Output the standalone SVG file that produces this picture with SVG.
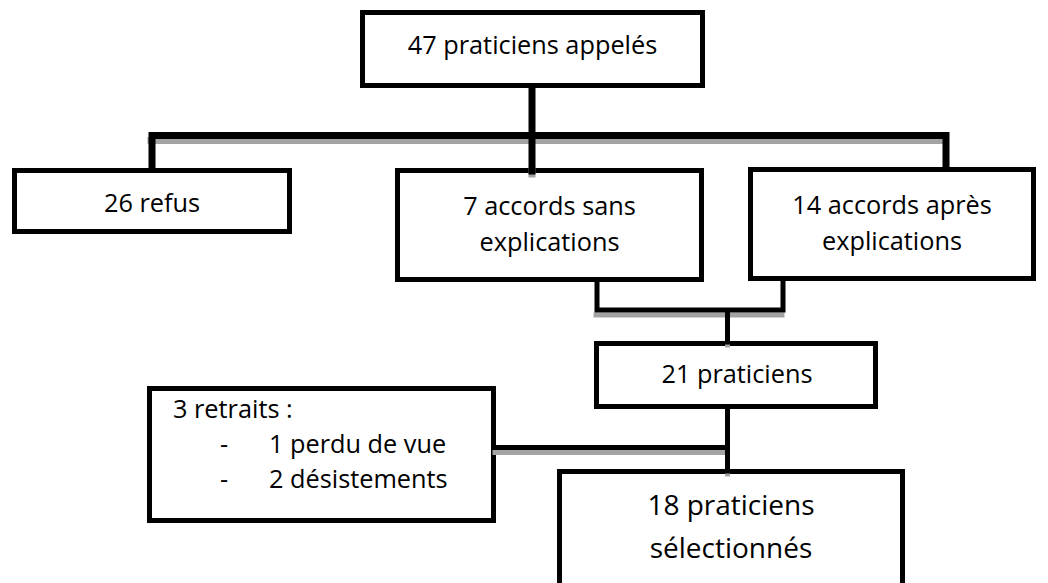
<svg xmlns="http://www.w3.org/2000/svg" width="1048" height="583" viewBox="0 0 1048 583">
  <style>
    .box { fill: #ffffff; stroke: #000000; stroke-width: 5; }
    .lbl { font-family: "Open Sans", "Liberation Sans", sans-serif; font-size: 25.3px; fill: #000000; }
    .mid { text-anchor: middle; }
    .big { font-size: 28px; }
    .wire { fill: none; stroke: #000000; stroke-linecap: square; }
    .shade { fill: none; stroke: #a3a3a3; stroke-linecap: square; }
    .thick { stroke-width: 7; }
    .thin { stroke-width: 5; }
  </style>
  <rect width="1048" height="583" fill="#ffffff"/>

  <g id="node-appeles">
    <rect class="box" x="362.5" y="12.5" width="340" height="73"/>
    <text class="lbl mid" x="532.5" y="54">47 praticiens appelés</text>
  </g>

  <g id="node-refus">
    <rect class="box" x="14.5" y="170.5" width="275" height="61"/>
    <text class="lbl mid" x="152" y="212">26 refus</text>
  </g>

  <g id="node-sans">
    <rect class="box" x="397.5" y="170.5" width="304" height="109"/>
    <text class="lbl mid" x="549.5" y="215">7 accords sans</text>
    <text class="lbl mid" x="549.5" y="251">explications</text>
  </g>

  <g id="node-apres">
    <rect class="box" x="750.5" y="169.5" width="283" height="109"/>
    <text class="lbl mid" x="892" y="214">14 accords après</text>
    <text class="lbl mid" x="892" y="250">explications</text>
  </g>

  <g id="node-21">
    <rect class="box" x="596.5" y="343.5" width="279" height="63"/>
    <text class="lbl mid" x="737" y="383">21 praticiens</text>
  </g>

  <g id="node-retraits">
    <rect class="box" x="149.5" y="388.5" width="344" height="132"/>
    <text class="lbl" x="173" y="418">3 retraits :</text>
    <text class="lbl" x="220" y="453">-</text>
    <text class="lbl" x="269" y="453">1 perdu de vue</text>
    <text class="lbl" x="220" y="488">-</text>
    <text class="lbl" x="269" y="488">2 désistements</text>
  </g>

  <g id="node-18">
    <rect class="box" x="559.5" y="471.5" width="343" height="120"/>
    <text class="lbl mid big" x="731" y="515">18 praticiens</text>
    <text class="lbl mid big" x="731" y="558">sélectionnés</text>
  </g>

  <g id="connectors">
    <!-- grey drop shadows, drawn first -->
    <g transform="translate(-1,5)">
      <path class="shade thick" d="M152,135.5 H946"/>
      <path class="shade thin" d="M597,310 H783"/>
      <path class="shade thin" d="M496,447.5 H727.5"/>
    </g>
    <g transform="translate(0,3)">
      <path class="shade thick" d="M532,171 V168"/>
      <path class="shade thin" d="M727.5,342 V340"/>
      <path class="shade thin" d="M727.5,471 V469"/>
    </g>
    <!-- top split -->
    <path class="wire thick" d="M152,168 V135.5 H946 V168"/>
    <path class="wire thick" d="M532,88 V171"/>
    <!-- merge of the two agreement boxes -->
    <path class="wire thin" d="M597,282 V310 H783 V281"/>
    <path class="wire thin" d="M727.5,312 V342"/>
    <!-- down to selection, with withdrawals branch -->
    <path class="wire thin" d="M727.5,409 V471"/>
    <path class="wire thin" d="M496,447.5 H727.5"/>
  </g>
</svg>
